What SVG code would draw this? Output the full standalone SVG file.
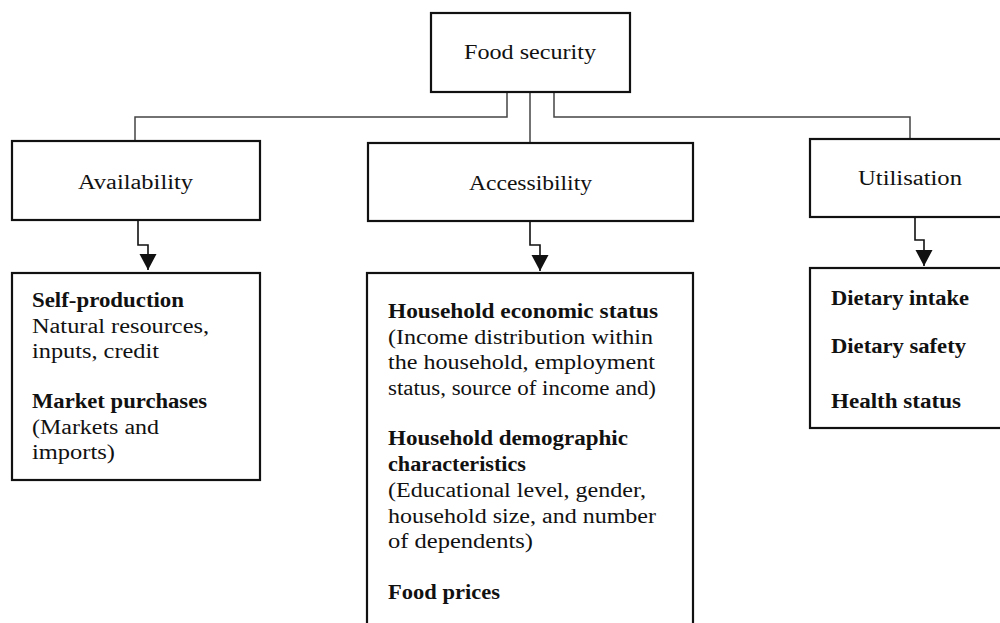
<svg xmlns="http://www.w3.org/2000/svg" width="1000" height="623" viewBox="0 0 1000 623">
<style>
.box{fill:#fff;stroke:#111;stroke-width:2.2}
.t{font-family:"Liberation Serif","Times New Roman",serif;font-size:20px;fill:#111}
.b{font-weight:bold}
.conn{fill:none;stroke:#444;stroke-width:1.5}
.arr{fill:none;stroke:#111;stroke-width:1.6}
</style>
<defs>
<marker id="ah" markerUnits="userSpaceOnUse" markerWidth="18" markerHeight="18" refX="16" refY="8.5" orient="auto">
<path d="M0,0 L16,8.5 L0,17 z" fill="#111"/>
</marker>
</defs>
<g id="connectors">
<path class="conn" d="M507,93 V117 H135 V141"/>
<path class="conn" d="M530,92 V143"/>
<path class="conn" d="M554,93 V117 H910 V139"/>
<path class="arr" d="M138,220 V245 H148 V270" marker-end="url(#ah)"/>
<path class="arr" d="M530,221 V245 H540 V271" marker-end="url(#ah)"/>
<path class="arr" d="M915,217 V240 H924 V266" marker-end="url(#ah)"/>
</g>
<g id="food-security">
<rect class="box" x="431" y="13" width="199" height="79"/>
<text class="t" x="464" y="59" textLength="132" lengthAdjust="spacingAndGlyphs">Food security</text>
</g>
<g id="availability">
<rect class="box" x="12" y="141" width="248" height="79"/>
<text class="t" x="78" y="189" textLength="115" lengthAdjust="spacingAndGlyphs">Availability</text>
</g>
<g id="accessibility">
<rect class="box" x="368" y="143" width="325" height="78"/>
<text class="t" x="469" y="190" textLength="123" lengthAdjust="spacingAndGlyphs">Accessibility</text>
</g>
<g id="utilisation">
<rect class="box" x="810" y="139" width="200" height="78"/>
<text class="t" x="858" y="185" textLength="104" lengthAdjust="spacingAndGlyphs">Utilisation</text>
</g>
<g id="availability-details">
<rect class="box" x="12" y="273" width="248" height="207"/>
<text class="t b" x="32" y="307" textLength="152" lengthAdjust="spacingAndGlyphs">Self-production</text>
<text class="t" x="32" y="333" textLength="177" lengthAdjust="spacingAndGlyphs">Natural resources,</text>
<text class="t" x="32" y="358" textLength="127" lengthAdjust="spacingAndGlyphs">inputs, credit</text>
<text class="t b" x="32" y="408" textLength="175" lengthAdjust="spacingAndGlyphs">Market purchases</text>
<text class="t" x="32" y="434" textLength="127" lengthAdjust="spacingAndGlyphs">(Markets and</text>
<text class="t" x="32" y="459" textLength="83" lengthAdjust="spacingAndGlyphs">imports)</text>
</g>
<g id="accessibility-details">
<rect class="box" x="367" y="273" width="326" height="360"/>
<text class="t b" x="388" y="318" textLength="270" lengthAdjust="spacingAndGlyphs">Household economic status</text>
<text class="t" x="388" y="344" textLength="265" lengthAdjust="spacingAndGlyphs">(Income distribution within</text>
<text class="t" x="388" y="369" textLength="267" lengthAdjust="spacingAndGlyphs">the household, employment</text>
<text class="t" x="388" y="395" textLength="268" lengthAdjust="spacingAndGlyphs">status, source of income and)</text>
<text class="t b" x="388" y="445" textLength="240" lengthAdjust="spacingAndGlyphs">Household demographic</text>
<text class="t b" x="388" y="471" textLength="138" lengthAdjust="spacingAndGlyphs">characteristics</text>
<text class="t" x="388" y="497" textLength="258" lengthAdjust="spacingAndGlyphs">(Educational level, gender,</text>
<text class="t" x="388" y="523" textLength="268" lengthAdjust="spacingAndGlyphs">household size, and number</text>
<text class="t" x="388" y="548" textLength="145" lengthAdjust="spacingAndGlyphs">of dependents)</text>
<text class="t b" x="388" y="599" textLength="112" lengthAdjust="spacingAndGlyphs">Food prices</text>
</g>
<g id="utilisation-details">
<rect class="box" x="810" y="268" width="200" height="160"/>
<text class="t b" x="831" y="305" textLength="138" lengthAdjust="spacingAndGlyphs">Dietary intake</text>
<text class="t b" x="831" y="353" textLength="135" lengthAdjust="spacingAndGlyphs">Dietary safety</text>
<text class="t b" x="831" y="408" textLength="130" lengthAdjust="spacingAndGlyphs">Health status</text>
</g>
</svg>
